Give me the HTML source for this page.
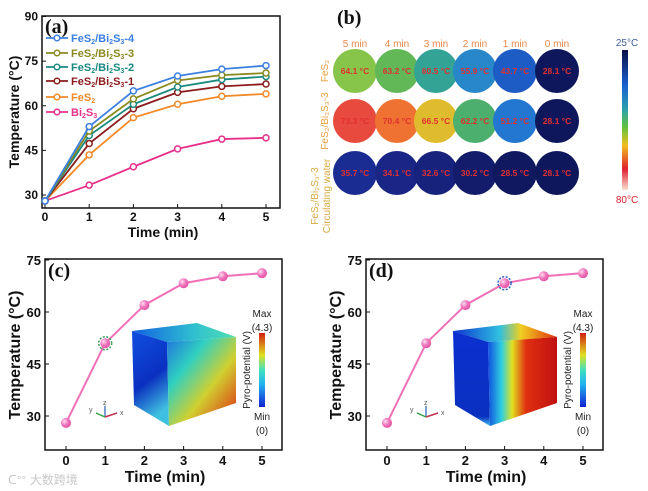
<!DOCTYPE html>
<html><head><meta charset="utf-8">
<style>
html,body{margin:0;padding:0;background:#fff;}
svg{display:block;font-family:"Liberation Sans",Arial,sans-serif;}
.tk{font-size:12px;font-weight:bold;fill:#111;}
.ttl{font-size:14px;font-weight:bold;fill:#111;}
.lab{font-family:"Liberation Serif",serif;font-size:20px;font-weight:bold;fill:#111;}
</style></head>
<body>
<svg id="fig" width="648" height="491" viewBox="0 0 648 491" xmlns="http://www.w3.org/2000/svg">
<defs>
<linearGradient id="irbar" x1="0" y1="0" x2="0" y2="1">
<stop offset="0" stop-color="#0a0f45"/><stop offset="0.25" stop-color="#1a5fd0"/><stop offset="0.42" stop-color="#2aa0b0"/><stop offset="0.55" stop-color="#60c040"/><stop offset="0.68" stop-color="#f0c020"/><stop offset="0.85" stop-color="#e02030"/><stop offset="1" stop-color="#f8e0d0"/>
</linearGradient>
<linearGradient id="pbar" x1="0" y1="1" x2="0" y2="0">
<stop offset="0" stop-color="#1020d0"/><stop offset="0.3" stop-color="#20b0f0"/><stop offset="0.5" stop-color="#40e0c0"/><stop offset="0.7" stop-color="#e0e020"/><stop offset="1" stop-color="#d02010"/>
</linearGradient>
<linearGradient id="cL" x1="0" y1="0" x2="0.3" y2="1"><stop offset="0" stop-color="#1050e0"/><stop offset="0.6" stop-color="#0a30c0"/><stop offset="1" stop-color="#40c0e0"/></linearGradient>
<linearGradient id="cR" x1="0" y1="0" x2="1" y2="1"><stop offset="0" stop-color="#2070e0"/><stop offset="0.3" stop-color="#30d0c0"/><stop offset="0.6" stop-color="#d0d030"/><stop offset="1" stop-color="#e02010"/></linearGradient>
<linearGradient id="cT" x1="0" y1="0" x2="1" y2="0"><stop offset="0" stop-color="#1060e0"/><stop offset="0.6" stop-color="#30c0d0"/><stop offset="1" stop-color="#50e0b0"/></linearGradient>
<linearGradient id="dL" x1="0" y1="0" x2="0" y2="1"><stop offset="0" stop-color="#0a30d0"/><stop offset="0.9" stop-color="#0a30c0"/><stop offset="1" stop-color="#40c0f0"/></linearGradient>
<linearGradient id="dR" x1="0" y1="0" x2="1" y2="0"><stop offset="0" stop-color="#1050e0"/><stop offset="0.2" stop-color="#30d0e0"/><stop offset="0.35" stop-color="#e0e020"/><stop offset="0.55" stop-color="#e03010"/><stop offset="1" stop-color="#c01010"/></linearGradient>
<linearGradient id="dT" x1="0" y1="0" x2="1" y2="0"><stop offset="0" stop-color="#0a30d0"/><stop offset="0.45" stop-color="#30c0e0"/><stop offset="0.65" stop-color="#f0d020"/><stop offset="1" stop-color="#e03010"/></linearGradient>
<radialGradient id="ball" cx="0.35" cy="0.35" r="0.7"><stop offset="0" stop-color="#ffe0f0"/><stop offset="0.5" stop-color="#f07ac0"/><stop offset="1" stop-color="#e050a0"/></radialGradient>
</defs>
<g id="pa"></g>
<g id="pb"></g>
<g id="pc"></g>
<g id="pd"></g>
<text x="8" y="484" font-size="12" fill="#c8c8c8" font-family="'Liberation Sans','Noto Sans CJK SC',sans-serif">ᑕ°° 大数跨境</text>
</svg>
<script>
const NS="http://www.w3.org/2000/svg";
// ---- Panel (a) data ----
const timesA=[0,1,2,3,4,5];
const seriesNames=["FeS2/Bi2S3-4","FeS2/Bi2S3-3","FeS2/Bi2S3-2","FeS2/Bi2S3-1","FeS2","Bi2S3"];
const s4=[28,53,65,70,72.3,73.5];
const s3=[28,51.5,62.3,68.5,70.3,71];
const s2=[28,50,60.5,66.3,68.8,69.8];
const s1=[28,47.3,59,64.5,66.5,67.3];
const sFeS2=[28,43.5,56,60.5,63.2,64];
const sBi2S3=[28,33.3,39.5,45.5,48.8,49.2];
const yTicksA=[30,45,60,75,90];
// ---- Panel (b) data ----
const irTimes=["5 min","4 min","3 min","2 min","1 min","0 min"];
const irRow1=[64.1,63.2,60.5,55.9,43.7,28.1];
const irRow2=[73.3,70.4,66.5,62.2,51.2,28.1];
const irRow3=[35.7,34.1,32.6,30.2,28.5,28.1];
// ---- Panels (c)(d) data ----
const timesCD=[0,1,2,3,4,5];
const tempCD=[28,51,62,68.3,70.3,71.2];
const yTicksCD=[30,45,60,75];
const highlightC=1, highlightD=3;

function el(tag,attrs,parent,text){const e=document.createElementNS(NS,tag);for(const k in attrs)e.setAttribute(k,attrs[k]);if(text!==undefined)e.textContent=text;parent.appendChild(e);return e;}

// Panel A
(function(){
const g=document.getElementById('pa');
const L=42,R=280,T=16,B=208;
const x=t=>45+t*(266-45)/5;
const y=v=>195-(v-30)*(195-16.5)/60;
const colors=["#3b7fe0","#8a8a20","#1a8a80","#8b1c1c","#f28a2a","#e8308a"];
const data=[s4,s3,s2,s1,sFeS2,sBi2S3];
const fr=el('rect',{x:L,y:T,width:R-L,height:B-T,fill:'none',stroke:'#111','stroke-width':1.5},g);

yTicksA.forEach(v=>{el('line',{x1:L,x2:L+4,y1:y(v),y2:y(v),stroke:'#111'},g);
 const t=el('text',{x:L-4,y:y(v)+4,'text-anchor':'end',class:'tk'},g,v);});
timesA.forEach(v=>{el('line',{x1:x(v),x2:x(v),y1:B,y2:B-4,stroke:'#111'},g);
 const t=el('text',{x:x(v),y:B+13,'text-anchor':'middle',class:'tk'},g,v);});
for(let i=data.length-1;i>=0;i--){
 const d=data[i];
 const p=el('polyline',{points:d.map((v,j)=>x(timesA[j])+','+y(v)).join(' '),fill:'none',stroke:colors[i],'stroke-width':1.8},g);
 
 d.forEach((v,j)=>{const c=el('circle',{cx:x(timesA[j]),cy:y(v),r:3,fill:'#fff',stroke:colors[i],'stroke-width':1.5},g);});
}
const ly=[38,53,67,81,97,112];
const labs=[["FeS","2","/Bi","2","S","3","-4"],["FeS","2","/Bi","2","S","3","-3"],["FeS","2","/Bi","2","S","3","-2"],["FeS","2","/Bi","2","S","3","-1"],["FeS","2"],["Bi","2","S","3"]];
labs.forEach((parts,i)=>{
 const lg=el('g',{},g);
 el('line',{x1:46,x2:68,y1:ly[i],y2:ly[i],stroke:colors[i],'stroke-width':1.8},lg);
 el('circle',{cx:57,cy:ly[i],r:2.8,fill:'#fff',stroke:colors[i],'stroke-width':1.5},lg);
 const t=el('text',{x:71,y:ly[i]+4,'font-size':11,'font-weight':'bold',fill:colors[i]},lg);
 parts.forEach((p,k)=>{const ts=el('tspan',k%2?{'font-size':7,dy:2}:{ 'font-size':11,dy:k?-2:0},t,p);});
});
const lb=el('text',{x:45,y:33,class:'lab'},g,'(a)');
const xt=el('text',{x:163,y:237,'text-anchor':'middle',class:'ttl'},g,'Time (min)');
const yt=el('text',{x:0,y:0,transform:'translate(19,112) rotate(-90)','text-anchor':'middle',class:'ttl'},g,'Temperature (°C)');
})();

// Panel B
(function(){
const g=document.getElementById('pb');
const cx=[355,397,436,475,515,557], cy=[71,121,173];
const stops=[[25,[10,15,70]],[35,[26,40,140]],[45,[30,100,205]],[55,[40,130,210]],[60,[42,160,160]],[63,[90,180,90]],[65,[170,210,60]],[67,[240,180,40]],[70,[240,120,50]],[74,[232,64,64]],[80,[240,40,50]]];
function col(v){for(let i=0;i<stops.length-1;i++){const a=stops[i],b=stops[i+1];if(v<=b[0]){const f=Math.max(0,(v-a[0])/(b[0]-a[0]));return 'rgb('+a[1].map((c,k)=>Math.round(c+(b[1][k]-c)*f)).join(',')+')';}}return 'rgb(240,40,50)';}
const lb=el('text',{x:337,y:24,class:'lab'},g,'(b)');
irTimes.forEach((t,i)=>{const e=el('text',{x:cx[i],y:47,'text-anchor':'middle','font-size':10,fill:'#e8884a'},g,t);});
[irRow1,irRow2,irRow3].forEach((row,r)=>{row.forEach((v,i)=>{
 const c=el('circle',{cx:cx[i],cy:cy[r],r:22,fill:col(v)},g);
 const t=el('text',{x:cx[i],y:cy[r]+3,'text-anchor':'middle','font-size':8.5,'font-weight':'bold',fill:'#e03030'},g,v.toFixed(1)+' °C');
});});
const rl=[['FeS₂',71],['FeS₂/Bi₂S₃-3',121]];
rl.forEach(([s,yy])=>{const t=el('text',{transform:'translate(328,'+yy+') rotate(-90)','text-anchor':'middle','font-size':10,fill:'#e8a040'},g,s);});
const t3=el('text',{transform:'translate(318,196) rotate(-90)','text-anchor':'middle','font-size':10,fill:'#d8a840'},g,'FeS₂/Bi₂S₃-3');
const t4=el('text',{transform:'translate(330,196) rotate(-90)','text-anchor':'middle','font-size':10,fill:'#d8a840'},g,'Circulating water');
const cb=el('rect',{x:622,y:50,width:6,height:140,fill:'url(#irbar)'},g);
const a=el('text',{x:627,y:46,'text-anchor':'middle','font-size':10,fill:'#4060a0'},g,'25°C');
const b=el('text',{x:627,y:203,'text-anchor':'middle','font-size':10,fill:'#e02030'},g,'80°C');
})();

// Panels C, D
function panelCD(id,ox,hi,label,ringCol,pre){
const g=document.getElementById(id);
const L=45+ox,R=282+ox,T=259,B=450;
const x=t=>66+ox+t*(262-66)/5;
const y=v=>416-(v-30)*(416-260)/45;
const fr=el('rect',{x:L,y:T,width:R-L,height:B-T,fill:'none',stroke:'#111','stroke-width':1.5},g);

yTicksCD.forEach(v=>{el('line',{x1:L,x2:L+4,y1:y(v),y2:y(v),stroke:'#111'},g);
 const t=el('text',{x:L-4,y:y(v)+5,'text-anchor':'end','font-size':13,'font-weight':'bold',fill:'#111'},g,v);});
timesCD.forEach(v=>{el('line',{x1:x(v),x2:x(v),y1:B,y2:B-4,stroke:'#111'},g);
 const t=el('text',{x:x(v),y:B+15,'text-anchor':'middle','font-size':13,'font-weight':'bold',fill:'#111'},g,v);});
// cube
const cg=el('g',{transform:'translate('+ox+',0)'},g);
el('polygon',{points:'132,331 197,323 236,337 167,342',fill:'url(#'+pre+'T)'},cg);
el('polygon',{points:'132,331 167,342 169,426 134,405',fill:'url(#'+pre+'L)'},cg);
el('polygon',{points:'167,342 236,337 236,403 169,426',fill:'url(#'+pre+'R)'},cg);
const line=el('polyline',{points:timesCD.map((t,j)=>x(t)+','+y(tempCD[j])).join(' '),fill:'none',stroke:'#f070b8','stroke-width':2},g);

tempCD.forEach((v,j)=>{
 if(j===hi){const rg=el('circle',{cx:x(timesCD[j]),cy:y(v),r:6.5,fill:'none',stroke:ringCol,'stroke-width':1.5,'stroke-dasharray':'2,1.5'},g);}
 const c=el('circle',{cx:x(timesCD[j]),cy:y(v),r:5,fill:'url(#ball)'},g);
});
// axes triad
const ax=el('g',{transform:'translate('+ox+',0)'},g);
el('line',{x1:105,y1:417,x2:105,y2:406,stroke:'#4a80c0','stroke-width':1.5},ax);
el('line',{x1:105,y1:417,x2:117,y2:413,stroke:'#c03050','stroke-width':1.5},ax);
el('line',{x1:105,y1:417,x2:96,y2:413,stroke:'#30a040','stroke-width':1.5},ax);
el('text',{x:103,y:405,'font-size':7,fill:'#555'},ax,'z');el('text',{x:120,y:415,'font-size':7,fill:'#555'},ax,'x');el('text',{x:89,y:412,'font-size':7,fill:'#555'},ax,'y');
const cb=el('rect',{x:259+ox,y:333,width:6,height:74,fill:'url(#pbar)'},g);
[['Max',313],['(4.3)',327],['Min',416],['(0)',430]].forEach(([s,yy])=>{const t=el('text',{x:262+ox,y:yy+4,'text-anchor':'middle','font-size':10,fill:'#222'},g,s);});
const pt=el('text',{transform:'translate('+(250+ox)+',370) rotate(-90)','text-anchor':'middle','font-size':10,fill:'#222'},g,'Pyro-potential (V)');
const lb=el('text',{x:48+ox,y:277,class:'lab'},g,label);
const xt=el('text',{x:165+ox,y:482,'text-anchor':'middle','font-size':16,'font-weight':'bold',fill:'#111'},g,'Time (min)');
const yt=el('text',{transform:'translate('+(20+ox)+',355) rotate(-90)','text-anchor':'middle','font-size':16,'font-weight':'bold',fill:'#111'},g,'Temperature (°C)');
}
panelCD('pc',0,highlightC,'(c)','#40a060','c');
panelCD('pd',321,highlightD,'(d)','#3060c0','d');
</script>
</body></html>
